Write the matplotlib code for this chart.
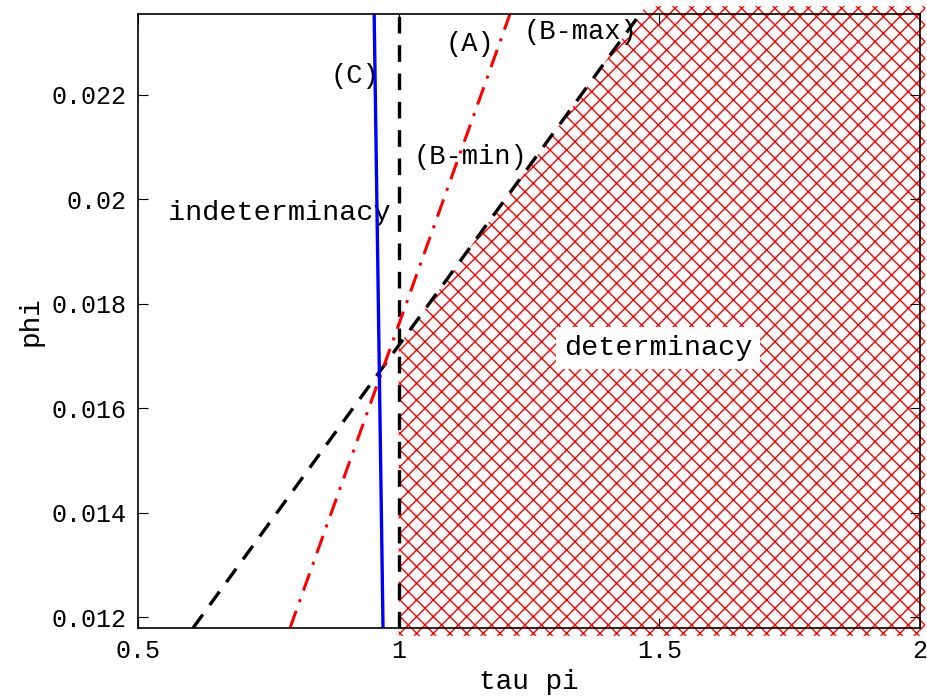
import numpy as np
import matplotlib
matplotlib.use('Agg')
import matplotlib.pyplot as plt
from matplotlib.patches import Polygon

plt.rcParams['font.family'] = ['Liberation Mono', 'DejaVu Sans Mono']
plt.rcParams['hatch.linewidth'] = 1.0

# axis limits
x_lim = [0.5, 2.0]
y_lim = [0.01179, 0.02355]

# (C): blue solid
c_x = [0.953, 0.970]
c_y = [0.02355, 0.01179]
# (A): red dash-dot
a_x = [0.7916, 1.2136]
a_y = [0.01179, 0.02355]
# (B-min)/(B-max): black dashed
b_x = [0.6055, 1.463]
b_y = [0.01179, 0.02355]
# vertical boundary tau pi = 1
v_x = [1.0, 1.0]
v_y = [0.01179, 0.02355]

x_ticks = [0.5, 1, 1.5, 2]
x_ticklabels = ['0.5', '1', '1.5', '2']
y_ticks = [0.012, 0.014, 0.016, 0.018, 0.02, 0.022]
y_ticklabels = ['0.012', '0.014', '0.016', '0.018', '0.02', '0.022']

fig = plt.figure(figsize=(9.27, 6.97), dpi=100)
ax = fig.add_axes([138 / 927, 1 - 628 / 697, 782 / 927, 614 / 697])

# determinacy region (hatched)
slope = (b_y[1] - b_y[0]) / (b_x[1] - b_x[0])
y_at_1 = b_y[0] + slope * (1.0 - b_x[0])
pad = 0.00015
region = [(1.0, y_lim[0] - pad), (2.01, y_lim[0] - pad), (2.01, y_lim[1] + pad),
          (b_x[1] + pad / slope, y_lim[1] + pad), (1.0, y_at_1)]
ax.add_patch(Polygon(region, closed=True, facecolor='none', edgecolor='red', lw=0,
                     hatch='xx', clip_on=False, zorder=1))

ax.plot(b_x, b_y, color='black', lw=2.4, ls=(0, (5, 3.5)), zorder=3)
ax.plot(v_x, v_y, color='black', lw=2.4, ls=(0, (5, 3.5)), zorder=3)
ax.plot(a_x, a_y, color='red', lw=2.2, ls=(0, (6, 3, 1, 3)), zorder=3)
ax.plot(c_x, c_y, color='blue', lw=2.4, zorder=4)

fs = 19.5
ax.text(0.916, 0.02236, '(C)', fontsize=fs, ha='center', va='center')
ax.text(1.137, 0.02298, '(A)', fontsize=fs, ha='center', va='center')
ax.text(1.348, 0.02321, '(B-max)', fontsize=fs, ha='center', va='center')
ax.text(1.137, 0.02081, '(B-min)', fontsize=fs, ha='center', va='center')
ax.text(0.772, 0.01973, 'indeterminacy', fontsize=20.5, ha='center', va='center')
ax.text(1.4975, 0.01715, 'determinacy', fontsize=20.5, ha='center', va='center',
        bbox=dict(facecolor='white', edgecolor='none', pad=6), zorder=5)

ax.set_xlim(x_lim)
ax.set_ylim(y_lim)
ax.set_xticks(x_ticks)
ax.set_xticklabels(x_ticklabels)
ax.set_yticks(y_ticks)
ax.set_yticklabels(y_ticklabels)
ax.tick_params(direction='in', top=True, right=True, length=7, labelsize=18, pad=8)
ax.set_xlabel('tau pi', fontsize=20, labelpad=4)
ax.set_ylabel('phi', fontsize=20, labelpad=6)
for s in ax.spines.values():
    s.set_linewidth(1.2)
    s.set_zorder(6)

fig.savefig('out.png', dpi=100)
